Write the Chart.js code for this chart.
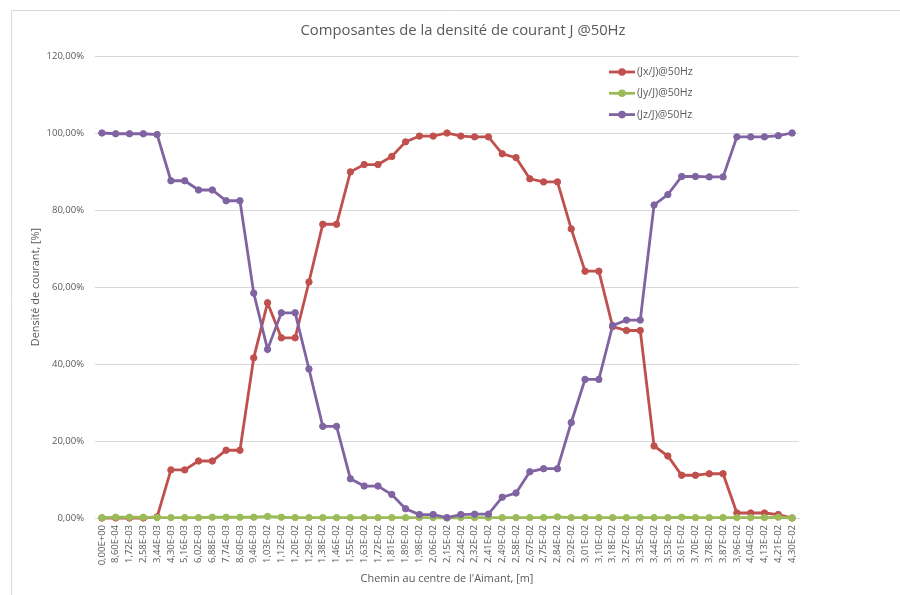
<!DOCTYPE html>
<html>
<head>
<meta charset="utf-8">
<title>Composantes de la densité de courant J @50Hz</title>
<script src="https://cdn.jsdelivr.net/npm/chart.js@4.4.1/dist/chart.umd.min.js"></script>
<style>
html,body{margin:0;padding:0;background:#fff}
#wrap{position:relative;width:900px;height:595px}
</style>
</head>
<body>
<div id="wrap"><canvas id="chart" width="900" height="595"></canvas></div>
<script>

// chemin le long de l'aimant [m]
const positions = [
"0,00E+00","8,60E-04","1,72E-03","2,58E-03","3,44E-03","4,30E-03","5,16E-03","6,02E-03","6,88E-03","7,74E-03",
"8,60E-03","9,46E-03","1,03E-02","1,12E-02","1,20E-02","1,29E-02","1,38E-02","1,46E-02","1,55E-02","1,63E-02",
"1,72E-02","1,81E-02","1,89E-02","1,98E-02","2,06E-02","2,15E-02","2,24E-02","2,32E-02","2,41E-02","2,49E-02",
"2,58E-02","2,67E-02","2,75E-02","2,84E-02","2,92E-02","3,01E-02","3,10E-02","3,18E-02","3,27E-02","3,35E-02",
"3,44E-02","3,53E-02","3,61E-02","3,70E-02","3,78E-02","3,87E-02","3,96E-02","4,04E-02","4,13E-02","4,21E-02",
"4,30E-02"
]

// composantes en % de J
const jx = [
0,0,0,0,0.3,12.5,12.5,14.8,14.8,17.6,
17.6,41.6,55.9,46.8,46.8,61.3,76.3,76.3,89.9,91.8,
91.8,93.9,97.7,99.2,99.2,100,99.2,99.0,99.0,94.6,
93.6,88.1,87.3,87.3,75.1,64.1,64.1,49.7,48.7,48.7,
18.7,16.1,11.1,11.1,11.5,11.5,1.3,1.3,1.3,0.9,
0
]

const jy = [
0.1,0.2,0.2,0.2,0.1,0.1,0.1,0.1,0.2,0.2,
0.2,0.2,0.4,0.2,0.1,0.1,0.1,0.1,0.1,0.1,
0.1,0.1,0.1,0.1,0.1,0,0.1,0.1,0.1,0.1,
0.1,0.1,0.1,0.3,0.1,0.1,0.1,0.1,0.1,0.1,
0.1,0.1,0.2,0.1,0.1,0.1,0.1,0.1,0.1,0.2,
0
]

const jz = [
100,99.8,99.8,99.8,99.6,87.6,87.6,85.2,85.2,82.4,
82.4,58.4,43.8,53.3,53.3,38.7,23.8,23.8,10.2,8.3,
8.3,6.1,2.4,0.9,0.9,0.1,0.9,1.0,1.0,5.4,
6.5,12.0,12.8,12.8,24.8,36.0,36.0,50.0,51.4,51.4,
81.3,84.0,88.7,88.7,88.6,88.6,99.0,99.0,99.0,99.3,
100
]

const seriesNames = ["(Jx/J)@50Hz","(Jy/J)@50Hz","(Jz/J)@50Hz"]
const seriesColors = ["#c0504d","#9bbb59","#8064a2"]

const chartTitle = "Composantes de la densité de courant J @50Hz"
const textColor = "#595959"
const gridColor = "#d9d9d9"
const fontFamily = "'Open Sans', sans-serif"

/* ---------------- frame, title, legend ---------------- */

const excelDecor = {
id:"excelDecor",
beforeDraw(chart){
const ctx = chart.ctx
ctx.save()
ctx.strokeStyle = gridColor
ctx.lineWidth = 1
ctx.beginPath()
ctx.moveTo(11.5,600)
ctx.lineTo(11.5,10.5)
ctx.lineTo(900,10.5)
ctx.stroke()
ctx.restore()
},
afterDraw(chart){
const ctx = chart.ctx
ctx.save()
ctx.fillStyle = textColor
ctx.font = "14.8px " + fontFamily
ctx.textAlign = "center"
ctx.textBaseline = "middle"
ctx.fillText(chartTitle,463,31)

// legend inside the plot, top right
ctx.font = "10.6px " + fontFamily
ctx.textAlign = "left"
chart.data.datasets.forEach((ds,i)=>{
const y = 72 + i*21.3
ctx.strokeStyle = ds.borderColor
ctx.lineWidth = 2.8
ctx.beginPath()
ctx.moveTo(609,y)
ctx.lineTo(635,y)
ctx.stroke()
ctx.fillStyle = ds.borderColor
ctx.beginPath()
ctx.arc(622,y,3.8,0,Math.PI*2)
ctx.fill()
ctx.fillStyle = textColor
ctx.fillText(ds.label,637,y)
})
ctx.restore()
}
}

function makeSet(i,values,order){
return {
label:seriesNames[i],
data:values,
borderColor:seriesColors[i],
backgroundColor:seriesColors[i],
borderWidth:2.8,
pointRadius:3.2,
pointBorderWidth:1,
pointBorderColor:seriesColors[i],
pointBackgroundColor:seriesColors[i],
tension:0,
clip:false,
order:order
}
}

new Chart(document.getElementById("chart"),{

type:"line",

data:{
labels:positions,
datasets:[
makeSet(0,jx,2),
makeSet(1,jy,1),
makeSet(2,jz,0)
]
},

options:{
responsive:false,
animation:false,
layout:{padding:{left:25,top:56,right:101,bottom:6}},
plugins:{
legend:{display:false},
title:{display:false},
tooltip:{enabled:false}
},
scales:{
x:{
offset:true,
grid:{display:false,drawTicks:false},
border:{display:true,color:gridColor},
ticks:{
autoSkip:false,
minRotation:90,
maxRotation:90,
padding:7,
color:textColor,
font:{family:fontFamily,size:9.5}
},
title:{
display:true,
text:"Chemin au centre de l'Aimant, [m]",
color:textColor,
font:{family:fontFamily,size:10.9},
padding:{top:2,bottom:4}
},
afterFit:(scale)=>{ scale.height = 71 }
},
y:{
min:0,
max:120,
grid:{color:gridColor,drawTicks:false},
border:{display:false},
ticks:{
stepSize:20,
padding:11,
color:textColor,
font:{family:fontFamily,size:9.5},
callback:(v)=>v.toFixed(2).replace(".",",")+"%"
},
title:{
display:true,
text:"Densité de courant, [%]",
color:textColor,
font:{family:fontFamily,size:10.9},
padding:{top:4,bottom:0}
},
afterFit:(scale)=>{ scale.width = 70 }
}
}
},

plugins:[excelDecor]

})

</script>
</body>
</html>
